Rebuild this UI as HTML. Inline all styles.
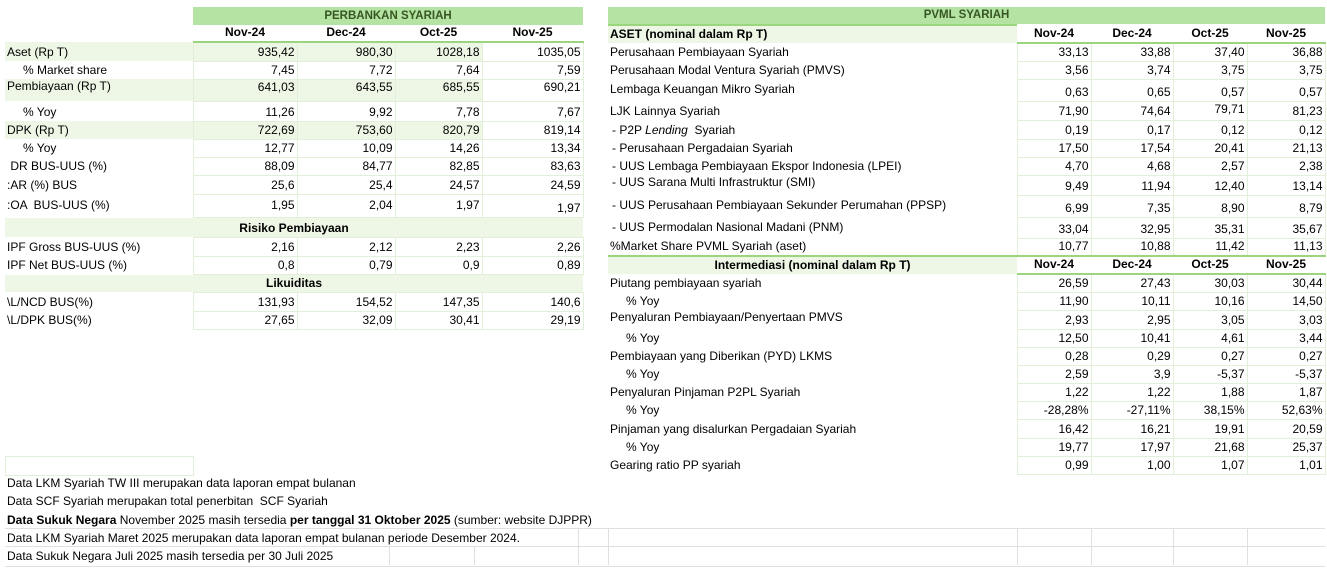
<!DOCTYPE html>
<html><head><meta charset="utf-8"><style>
body{margin:0;width:1327px;height:582px;background:#fff;position:relative;overflow:hidden;font-family:"Liberation Sans",sans-serif;font-size:12px;color:#000}
table{position:absolute;border-collapse:collapse;table-layout:fixed}
td{padding:0 2px 2px 2px;vertical-align:bottom;white-space:nowrap;overflow:hidden;line-height:14px}
td.v{text-align:right;border:1px solid #e2efd9}
.t{background:#b4e3a3;color:#375623;font-weight:bold;text-align:center;font-size:11.5px}
.g{background:#eef7e5}
.h{font-weight:bold;text-align:center;border-bottom:2px solid #9bd67f}
.b{font-weight:bold}
.c{text-align:center;font-weight:bold}
.i{padding-left:18px}
.d{padding-left:4px}
.n{position:absolute;left:7px;font-size:12px;white-space:nowrap}
</style></head><body>
<table style="left:5px;top:7px;width:578px">
<colgroup><col style="width:188px"><col style="width:104px"><col style="width:98px"><col style="width:87px"><col style="width:101px"></colgroup>
<tr style="height:18px"><td></td><td class="t" colspan="4">PERBANKAN SYARIAH</td></tr>
<tr style="height:17px"><td class="h" style="border-bottom:none"></td><td class="h">Nov-24</td><td class="h">Dec-24</td><td class="h">Oct-25</td><td class="h">Nov-25</td></tr>
<tr style="height:19px" class="g"><td>Aset (Rp T)</td><td class="v">935,42</td><td class="v">980,30</td><td class="v">1028,18</td><td class="v" style="background:#fff">1035,05</td></tr>
<tr style="height:18px"><td class="i">% Market share</td><td class="v">7,45</td><td class="v">7,72</td><td class="v">7,64</td><td class="v">7,59</td></tr>
<tr style="height:22px" class="g"><td style="vertical-align:top">Pembiayaan (Rp T)</td><td class="v" style="vertical-align:top">641,03</td><td class="v" style="vertical-align:top">643,55</td><td class="v" style="vertical-align:top">685,55</td><td class="v" style="vertical-align:top;background:#fff">690,21</td></tr>
<tr style="height:20px"><td class="i">% Yoy</td><td class="v">11,26</td><td class="v">9,92</td><td class="v">7,78</td><td class="v">7,67</td></tr>
<tr style="height:18px" class="g"><td>DPK (Rp T)</td><td class="v">722,69</td><td class="v">753,60</td><td class="v">820,79</td><td class="v" style="background:#fff">819,14</td></tr>
<tr style="height:18px"><td class="i">% Yoy</td><td class="v">12,77</td><td class="v">10,09</td><td class="v">14,26</td><td class="v">13,34</td></tr>
<tr style="height:18px"><td>&nbsp;DR BUS-UUS (%)</td><td class="v">88,09</td><td class="v">84,77</td><td class="v">82,85</td><td class="v">83,63</td></tr>
<tr style="height:19px"><td>:AR (%) BUS</td><td class="v">25,6</td><td class="v">25,4</td><td class="v">24,57</td><td class="v">24,59</td></tr>
<tr style="height:23px"><td style="vertical-align:middle">:OA &nbsp;BUS-UUS (%)</td><td class="v" style="vertical-align:middle">1,95</td><td class="v" style="vertical-align:middle">2,04</td><td class="v" style="vertical-align:middle">1,97</td><td class="v">1,97</td></tr>
<tr style="height:20px" class="g"><td colspan="5" class="c">Risiko Pembiayaan</td></tr>
<tr style="height:19px"><td>IPF Gross BUS-UUS (%)</td><td class="v">2,16</td><td class="v">2,12</td><td class="v">2,23</td><td class="v">2,26</td></tr>
<tr style="height:18px"><td>IPF Net BUS-UUS (%)</td><td class="v">0,8</td><td class="v">0,79</td><td class="v">0,9</td><td class="v">0,89</td></tr>
<tr style="height:18px" class="g"><td colspan="5" class="c">Likuiditas</td></tr>
<tr style="height:19px"><td>\L/NCD BUS(%)</td><td class="v">131,93</td><td class="v">154,52</td><td class="v">147,35</td><td class="v">140,6</td></tr>
<tr style="height:18px"><td>\L/DPK BUS(%)</td><td class="v">27,65</td><td class="v">32,09</td><td class="v">30,41</td><td class="v">29,19</td></tr>
</table>

<div style="position:absolute;left:5px;top:456px;width:187px;height:18px;border:1px solid #e2efd9"></div>
<div style="position:absolute;left:5px;top:528px;width:1320px;height:37px;border-top:1px solid #e0e0e0;border-bottom:1px solid #e0e0e0"></div>
<div style="position:absolute;left:5px;top:546px;width:1320px;height:1px;background:#e0e0e0"></div>
<div style="position:absolute;left:389px;top:547px;width:1px;height:18px;background:#e0e0e0"></div>
<div style="position:absolute;left:474px;top:547px;width:1px;height:18px;background:#e0e0e0"></div>
<div style="position:absolute;left:578px;top:529px;width:1px;height:36px;background:#e0e0e0"></div>
<div style="position:absolute;left:608px;top:529px;width:1px;height:36px;background:#e0e0e0"></div>
<div style="position:absolute;left:1017px;top:529px;width:1px;height:36px;background:#e0e0e0"></div>
<div style="position:absolute;left:1091px;top:529px;width:1px;height:36px;background:#e0e0e0"></div>
<div style="position:absolute;left:1173px;top:529px;width:1px;height:36px;background:#e0e0e0"></div>
<div style="position:absolute;left:1247px;top:529px;width:1px;height:36px;background:#e0e0e0"></div>

<div class="n" style="top:476px">Data LKM Syariah TW III merupakan data laporan empat bulanan</div>
<div class="n" style="top:494px">Data SCF Syariah merupakan total penerbitan &nbsp;SCF Syariah</div>
<div class="n" style="top:513px"><b>Data Sukuk Negara</b> November 2025 masih tersedia <b>per tanggal 31 Oktober 2025</b> (sumber: website DJPPR)</div>
<div class="n" style="top:531px">Data LKM Syariah Maret 2025 merupakan data laporan empat bulanan periode Desember 2024.</div>
<div class="n" style="top:549px">Data Sukuk Negara Juli 2025 masih tersedia per 30 Juli 2025</div>

<table style="left:608px;top:7px;width:717px">
<colgroup><col style="width:409px"><col style="width:74px"><col style="width:82px"><col style="width:74px"><col style="width:78px"></colgroup>
<tr style="height:18px"><td class="t" colspan="5">PVML SYARIAH</td></tr>
<tr style="height:18px"><td class="g b" style="border-top:2px solid #9bd67f">ASET (nominal dalam Rp T)</td><td class="h">Nov-24</td><td class="h">Dec-24</td><td class="h">Oct-25</td><td class="h">Nov-25</td></tr>
<tr style="height:18px"><td>Perusahaan Pembiayaan Syariah</td><td class="v">33,13</td><td class="v">33,88</td><td class="v">37,40</td><td class="v">36,88</td></tr>
<tr style="height:18px"><td>Perusahaan Modal Ventura Syariah (PMVS)</td><td class="v">3,56</td><td class="v">3,74</td><td class="v">3,75</td><td class="v">3,75</td></tr>
<tr style="height:22px"><td style="vertical-align:middle">Lembaga Keuangan Mikro Syariah</td><td class="v">0,63</td><td class="v">0,65</td><td class="v">0,57</td><td class="v">0,57</td></tr>
<tr style="height:19px"><td>LJK Lainnya Syariah</td><td class="v">71,90</td><td class="v">74,64</td><td class="v" style="vertical-align:top">79,71</td><td class="v">81,23</td></tr>
<tr style="height:19px"><td class="d">- P2P <i>Lending</i> &nbsp;Syariah</td><td class="v">0,19</td><td class="v">0,17</td><td class="v">0,12</td><td class="v">0,12</td></tr>
<tr style="height:18px"><td class="d">- Perusahaan Pergadaian Syariah</td><td class="v">17,50</td><td class="v">17,54</td><td class="v">20,41</td><td class="v">21,13</td></tr>
<tr style="height:18px"><td class="d">- UUS Lembaga Pembiayaan Ekspor Indonesia (LPEI)</td><td class="v">4,70</td><td class="v">4,68</td><td class="v">2,57</td><td class="v">2,38</td></tr>
<tr style="height:20px"><td class="d" style="vertical-align:top">- UUS Sarana Multi Infrastruktur (SMI)</td><td class="v">9,49</td><td class="v">11,94</td><td class="v">12,40</td><td class="v">13,14</td></tr>
<tr style="height:22px"><td class="d" style="vertical-align:middle">- UUS Perusahaan Pembiayaan Sekunder Perumahan (PPSP)</td><td class="v">6,99</td><td class="v">7,35</td><td class="v">8,90</td><td class="v">8,79</td></tr>
<tr style="height:21px"><td class="d" style="vertical-align:middle">- UUS Permodalan Nasional Madani (PNM)</td><td class="v">33,04</td><td class="v">32,95</td><td class="v">35,31</td><td class="v">35,67</td></tr>
<tr style="height:18px"><td>%Market Share PVML Syariah (aset)</td><td class="v">10,77</td><td class="v">10,88</td><td class="v">11,42</td><td class="v">11,13</td></tr>
<tr style="height:18px"><td class="g c" style="border-top:2px solid #9bd67f">Intermediasi (nominal dalam Rp T)</td><td class="h" style="border-top:2px solid #9bd67f">Nov-24</td><td class="h" style="border-top:2px solid #9bd67f">Dec-24</td><td class="h" style="border-top:2px solid #9bd67f">Oct-25</td><td class="h" style="border-top:2px solid #9bd67f">Nov-25</td></tr>
<tr style="height:18px"><td>Piutang pembiayaan syariah</td><td class="v">26,59</td><td class="v">27,43</td><td class="v">30,03</td><td class="v">30,44</td></tr>
<tr style="height:18px"><td class="i">% Yoy</td><td class="v">11,90</td><td class="v">10,11</td><td class="v">10,16</td><td class="v">14,50</td></tr>
<tr style="height:19px"><td style="vertical-align:top">Penyaluran Pembiayaan/Penyertaan PMVS</td><td class="v">2,93</td><td class="v">2,95</td><td class="v">3,05</td><td class="v">3,03</td></tr>
<tr style="height:18px"><td class="i">% Yoy</td><td class="v">12,50</td><td class="v">10,41</td><td class="v">4,61</td><td class="v">3,44</td></tr>
<tr style="height:18px"><td>Pembiayaan yang Diberikan (PYD) LKMS</td><td class="v">0,28</td><td class="v">0,29</td><td class="v">0,27</td><td class="v">0,27</td></tr>
<tr style="height:18px"><td class="i">% Yoy</td><td class="v">2,59</td><td class="v">3,9</td><td class="v">-5,37</td><td class="v">-5,37</td></tr>
<tr style="height:18px"><td>Penyaluran Pinjaman P2PL Syariah</td><td class="v">1,22</td><td class="v">1,22</td><td class="v">1,88</td><td class="v">1,87</td></tr>
<tr style="height:18px"><td class="i">% Yoy</td><td class="v">-28,28%</td><td class="v">-27,11%</td><td class="v">38,15%</td><td class="v">52,63%</td></tr>
<tr style="height:19px"><td>Pinjaman yang disalurkan Pergadaian Syariah</td><td class="v">16,42</td><td class="v">16,21</td><td class="v">19,91</td><td class="v">20,59</td></tr>
<tr style="height:18px"><td class="i">% Yoy</td><td class="v">19,77</td><td class="v">17,97</td><td class="v">21,68</td><td class="v">25,37</td></tr>
<tr style="height:18px"><td>Gearing ratio PP syariah</td><td class="v">0,99</td><td class="v">1,00</td><td class="v">1,07</td><td class="v">1,01</td></tr>
</table>
</body></html>
